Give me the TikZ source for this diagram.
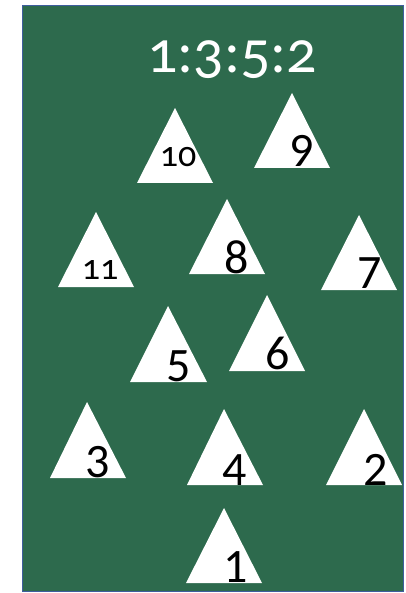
\documentclass[tikz,border=0pt]{standalone}
\usepackage{fontspec}
\setmainfont{Carlito}
\newfontfamily\oldnum{Carlito}[Numbers=OldStyle]
\usepackage{tikz}
\definecolor{boardgreen}{HTML}{2D6A4D}
\definecolor{boardedge}{HTML}{3F5E9E}

\begin{document}
\begin{tikzpicture}[x=1pt,y=-1pt,
 tri/.style={fill=white},
 numlbl/.style={anchor=base,inner sep=0pt,font=\fontsize{48}{50}\selectfont},
 smalllbl/.style={anchor=base,inner sep=0pt,font=\oldnum\fontsize{36}{38}\selectfont}]
\useasboundingbox (0,0) rectangle (405,593);
\fill[white] (0,0) rectangle (405,593);
\draw[draw=boardedge,fill=boardgreen,line width=1.5pt] (22.5,5.5) rectangle (403.5,591.5);
\node[anchor=base,inner sep=0pt,text=white,font=\oldnum\fontsize{60}{62}\selectfont] (ratio) at (232,73) {1:3:5:2};
% top row
\fill[tri] (137,183) -- (175,108) -- (213,183) -- cycle;
\node[smalllbl] (n10) at (178,167) {10};
\fill[tri] (254,168) -- (292,93) -- (330,168) -- cycle;
\node[numlbl] (n9) at (302,167) {9};
% second row
\fill[tri] (58,287) -- (96,212) -- (134,287) -- cycle;
\node[smalllbl] (n11) at (100,279) {11};
\fill[tri] (189,274) -- (227,199) -- (265,274) -- cycle;
\node[numlbl] (n8) at (237,273) {8};
\fill[tri] (321,290) -- (359,215) -- (397,290) -- cycle;
\node[numlbl] (n7) at (370,288) {7};
% middle
\fill[tri] (130,382) -- (168,306) -- (207,382) -- cycle;
\node[numlbl] (n5) at (179,381) {5};
\fill[tri] (229,371) -- (267,295) -- (305,371) -- cycle;
\node[numlbl] (n6) at (278,369) {6};
% lower row
\fill[tri] (50,478) -- (87,402) -- (126,478) -- cycle;
\node[numlbl] (n3) at (98,477) {3};
\fill[tri] (187,485) -- (224,409) -- (263,485) -- cycle;
\node[numlbl] (n4) at (235,485) {4};
\fill[tri] (326,485) -- (364,409) -- (402,485) -- cycle;
\node[numlbl] (n2) at (376,485) {2};
% bottom
\fill[tri] (186,583) -- (224,508) -- (262,583) -- cycle;
\node[numlbl] (n1) at (236,582) {1};
\end{tikzpicture}
\end{document}
